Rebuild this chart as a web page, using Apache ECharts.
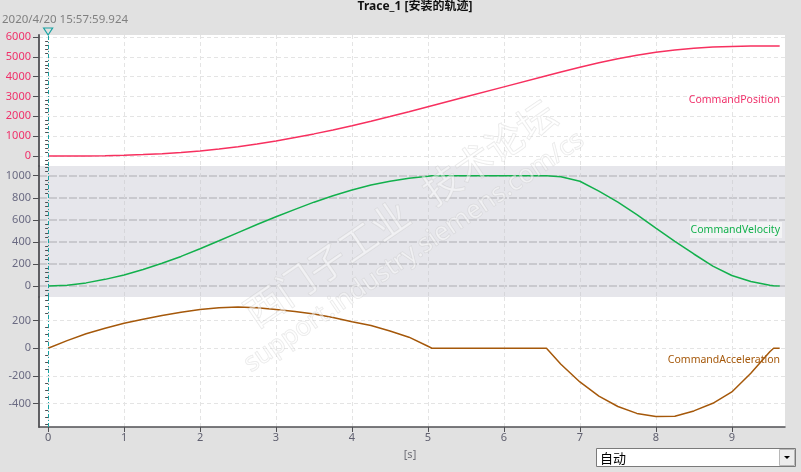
<!DOCTYPE html>
<html><head><meta charset="utf-8">
<script src="https://cdn.jsdelivr.net/npm/echarts@6/dist/echarts.min.js"></script>
<style>html,body{margin:0;padding:0;background:#e1e1e1;}#c{width:801px;height:472px;}</style>
</head><body><div id="c"></div>
<script>
// ---- data ----
const timeS = [0,0.25,0.5,0.75,1,1.25,1.5,1.75,2,2.25,2.5,2.75,3,3.25,3.5,3.75,4,4.25,4.5,4.75,5,5.05,5.5,6,6.56,6.75,7,7.25,7.5,7.75,8,8.25,8.5,8.75,9,9.25,9.5,9.55,9.63];
const commandPosition = [0,1,5,17,38,70,116,178,258,355,470,605,760,930,1115,1315,1530,1755,1990,2235,2485,2535,2985,3485,4045,4234,4477,4703,4905,5081,5228,5344,5431,5490,5524,5541,5547,5548,5548];
const commandVelocity = [0,7,28,60,100,150,206,268,338,410,484,558,628,695,760,818,870,915,950,977,995,1000,1000,1000,1000,990,950,860,760,648,525,405,290,180,95,40,6,3,0];
const commandAcceleration = [0,55,105,145,180,210,237,260,280,293,298,292,280,265,248,222,192,165,125,80,15,0,0,0,0,-115,-243,-345,-420,-470,-492,-490,-452,-397,-315,-180,-25,0,0];
const xTicks = [0,1,2,3,4,5,6,7,8,9];
const posTicks = [0,1000,2000,3000,4000,5000,6000];
const velTicks = [0,200,400,600,800,1000];
const accTicks = [-400,-200,0,200];
const seriesNames = ['CommandPosition','CommandVelocity','CommandAcceleration'];
const cursorTime = 0;

const FONT = "'Noto Sans','Noto Sans CJK SC',sans-serif";
const AXIS_COLOR = '#505054';

const panels = [
  {top:35, height:131, bg:'#ffffff', min:-504, max:6101, major:posTicks, minorStep:200, labelColor:'#f0306a', lineColor:'#f7305f',
   hSplit:{color:'#e4e4e4', type:[4,3], width:1}, vSplit:{color:'#e4e4e4', type:[4,3], width:1}, values:commandPosition},
  {top:166, height:131, bg:'#e6e6eb', min:-100, max:1088, major:velTicks, minorStep:40, labelColor:'#6a6a82', lineColor:'#12b04c',
   hSplit:{color:'#c9c9ce', type:[8,2], width:2}, vSplit:{color:'#d6d6da', type:[4,3], width:1}, values:commandVelocity},
  {top:297, height:130, bg:'#ffffff', min:-568, max:370, major:accTicks, minorStep:50, labelColor:'#6a6a82', lineColor:'#a5580a',
   hSplit:{color:'#e4e4e4', type:[4,3], width:1}, vSplit:{color:'#e4e4e4', type:[4,3], width:1}, values:commandAcceleration}
];

function minorValues(p){
  const out=[];
  for(let v=Math.ceil(p.min/p.minorStep)*p.minorStep; v<=p.max; v+=p.minorStep){
    if(p.major.indexOf(v)<0) out.push(v);
  }
  return out;
}
const plain = v => String(v);

const grid=[], xAxis=[], yAxis=[], series=[];
panels.forEach((p,i)=>{
  grid.push({left:39, right:16, top:p.top, height:p.height, show:true, backgroundColor:p.bg, borderWidth:0, containLabel:false});
  const last = i===panels.length-1;
  xAxis.push({gridIndex:i, type:'value', min:-0.12, max:9.7,
    axisLine:{show:last, onZero:false, lineStyle:{color:AXIS_COLOR, width:1.5}},
    axisTick:{show:last, customValues:xTicks, length:5, lineStyle:{color:AXIS_COLOR}},
    axisLabel:{show:last, customValues:xTicks, formatter:plain, color:'#606070', fontSize:11, fontFamily:FONT, margin:5},
    splitLine:{show:true, lineStyle:p.vSplit}
  });
  yAxis.push({gridIndex:i, type:'value', min:p.min, max:p.max, position:'left',
    axisLine:{show:true, onZero:false, lineStyle:{color:AXIS_COLOR, width:1.8}},
    axisTick:{show:true, customValues:p.major, length:6, lineStyle:{color:AXIS_COLOR}},
    axisLabel:{customValues:p.major, formatter:plain, color:p.labelColor, fontSize:11, fontFamily:FONT, margin:8},
    splitLine:{show:true, lineStyle:p.hSplit}
  });
  yAxis.push({gridIndex:i, type:'value', min:p.min, max:p.max, position:'left', offset:0,
    axisLine:{show:false},
    axisTick:{show:true, customValues:minorValues(p), length:3, lineStyle:{color:AXIS_COLOR}},
    axisLabel:{show:false},
    splitLine:{show:false}
  });
  series.push({name:seriesNames[i], type:'line', xAxisIndex:i, yAxisIndex:2*i, showSymbol:false, symbol:'none',
    data: timeS.map((t,k)=>[t,p.values[k]]),
    lineStyle:{color:p.lineColor, width:1.5}, itemStyle:{color:p.lineColor},
    silent:true,
    markLine:{silent:true, symbol:['none','none'], label:{show:false},
      lineStyle:{color:'#18a2a2', type:[4,2,1,2], width:1},
      data:[{xAxis:cursorTime}]}
  });
});

const chart = echarts.init(document.getElementById('c'), null, {renderer:'canvas'});
chart.setOption({animation:false, backgroundColor:'#e1e1e1', grid, xAxis, yAxis, series});

const cx = chart.convertToPixel({xAxisIndex:0, yAxisIndex:0}, [cursorTime, 0])[0];

const graphic = [
  // watermark
  {type:'text', x:400, y:213, rotation:0.6, silent:true, z:50,
   style:{text:'西门子工业   技术论坛', font:"38px 'Noto Sans CJK SC'", fill:'rgba(255,255,255,0.45)', stroke:'rgba(185,185,185,0.35)', lineWidth:1, align:'center', verticalAlign:'middle'}},
  {type:'text', x:414, y:252, rotation:0.6, silent:true, z:50,
   style:{text:'support.industry.siemens.com/cs', font:"26px 'Noto Sans'", fill:'rgba(255,255,255,0.45)', stroke:'rgba(185,185,185,0.35)', lineWidth:1, align:'center', verticalAlign:'middle'}},
  // title
  {type:'text', x:415, y:7, style:{text:'Trace_1 [安装的轨迹]', font:"bold 12px 'Noto Sans','Noto Sans CJK SC'", fill:'#111', align:'center', verticalAlign:'middle'}},
  {type:'text', x:2, y:20, style:{text:'2020/4/20 15:57:59.924', font:"11.5px 'Noto Sans'", fill:'#808080', align:'left', verticalAlign:'middle'}},
  // series labels
  {type:'text', x:780, y:100, z:60, style:{text:seriesNames[0], font:"10.5px 'Noto Sans'", fill:'#f0306a', align:'right', verticalAlign:'middle'}},
  {type:'rect', shape:{x:690, y:222, width:92, height:16}, z:59, style:{fill:'rgba(245,245,247,0.85)'}},
  {type:'text', x:780, y:230, z:60, style:{text:seriesNames[1], font:"10.5px 'Noto Sans'", fill:'#12b04c', align:'right', verticalAlign:'middle'}},
  {type:'text', x:780, y:360, z:60, style:{text:seriesNames[2], font:"10.5px 'Noto Sans'", fill:'#a5580a', align:'right', verticalAlign:'middle'}},
  // cursor marker
  {type:'polygon', z:60, shape:{points:[[cx-4.5,28],[cx+4.5,28],[cx,35]]}, style:{fill:'#e1e1e1', stroke:'#18a2a2', lineWidth:1.2}},
  // unit
  {type:'text', x:410, y:455, style:{text:'[s]', font:"11px 'Noto Sans'", fill:'#707078', align:'center', verticalAlign:'middle'}},
  // dropdown
  {type:'rect', shape:{x:596.5, y:448.5, width:199, height:18}, style:{fill:'#ffffff', stroke:'#7a7a7a', lineWidth:1}},
  {type:'rect', shape:{x:779.5, y:449.5, width:15, height:16}, style:{fill:'#ececec', stroke:'#b8b8b8', lineWidth:1}},
  {type:'polygon', shape:{points:[[784,456],[790,456],[787,459]]}, style:{fill:'#000'}},
  {type:'text', x:600, y:458, style:{text:'自动', font:"13px 'Noto Sans CJK SC'", fill:'#000', align:'left', verticalAlign:'middle'}}
];
chart.setOption({graphic});
</script>
</body></html>
